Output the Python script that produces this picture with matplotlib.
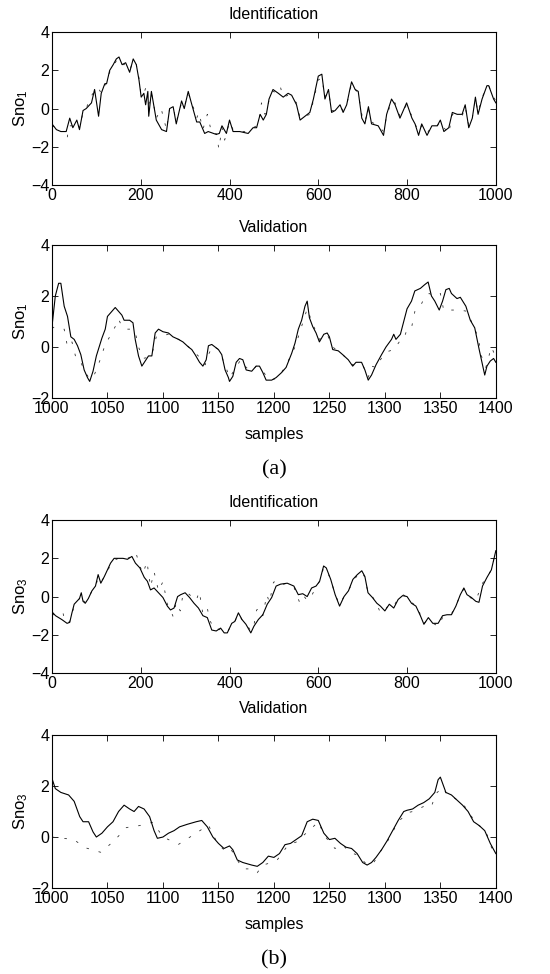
import matplotlib
matplotlib.use('Agg')
from matplotlib import pyplot as plt

plt.rcParams['font.family'] = ['Liberation Sans', 'DejaVu Sans']
plt.rcParams['mathtext.fontset'] = 'custom'
plt.rcParams['mathtext.rm'] = 'Liberation Sans'
plt.rcParams['mathtext.it'] = 'Liberation Sans'

# (a) identification, Sno_1 - measured (solid)
id1_x = [0, 10, 20, 32, 40, 47, 56, 62, 70, 77, 89, 96, 105, 111, 119, 123, 130, 138, 145,
         151, 158, 166, 175, 183, 190, 196, 201, 207, 211, 216, 218, 224, 235, 247, 258, 265,
         273, 280, 292, 298, 307, 314, 326, 333, 344, 352, 370, 377, 383, 393, 400, 408, 423,
         442, 453, 461, 469, 476, 483, 489, 498, 510, 521, 532, 540, 551, 559, 570, 581, 589,
         600, 608, 615, 623, 630, 638, 649, 656, 664, 671, 675, 683, 690, 698, 705, 713, 720,
         735, 747, 754, 765, 773, 784, 799, 811, 818, 826, 833, 845, 856, 868, 875, 883, 894,
         902, 913, 924, 931, 939, 947, 954, 960, 969, 980, 984, 995, 1000]
id1_y = [-0.8, -1.1, -1.2, -1.2, -0.5, -1.0, -0.6, -1.1, -0.1, 0.0, 0.3, 1.0, -0.4, 0.8, 1.3,
         1.3, 2.0, 2.3, 2.6, 2.7, 2.3, 2.4, 1.9, 2.6, 2.3, 1.5, 0.6, 0.8, 0.2, 0.9, -0.4, 0.9,
         -0.6, -1.1, -1.2, 0.0, 0.1, -0.8, 0.4, 0.0, 0.9, 0.3, -0.7, -0.7, -1.3, -1.2, -1.35,
         -1.3, -0.9, -1.3, -0.6, -1.2, -1.2, -1.3, -1.0, -1.0, -0.3, -0.6, -0.3, 0.5, 1.0, 0.8,
         0.6, 0.8, 0.7, 0.2, -0.6, -0.4, -0.2, 0.5, 1.7, 1.8, 0.5, 1.0, -0.2, -0.1, 0.2, -0.2,
         0.2, 1.0, 1.4, 1.0, 0.9, -0.5, -0.8, 0.1, -0.8, -0.9, -1.4, -0.3, 0.5, 0.2, -0.5, 0.3,
         -0.5, -0.8, -1.4, -0.8, -1.4, -0.9, -0.9, -0.6, -1.2, -1.0, -0.2, -0.3, -0.3, 0.2,
         -1.0, -0.5, 0.6, -0.3, 0.5, 1.2, 1.2, 0.5, 0.3]
# model output (dashed)
id1m_x = [0, 10, 20, 30, 34, 38, 47, 56, 62, 70, 77, 85, 91, 96, 104, 111, 119, 130, 138, 145,
          151, 158, 166, 175, 183, 190, 196, 201, 207, 213, 218, 224, 235, 246, 258, 265, 273,
          280, 292, 298, 307, 314, 326, 331, 340, 350, 360, 370, 376, 383, 389, 400, 408, 423,
          442, 453, 461, 469, 472, 480, 489, 498, 510, 515, 521, 532, 540, 551, 559, 570, 581,
          589, 600, 608, 615, 623, 630, 638, 649, 656, 664, 671, 675, 683, 690, 698, 705, 713,
          720, 735, 747, 754, 765, 773, 784, 799, 811, 818, 826, 833, 845, 856, 868, 875, 883,
          894, 902, 913, 924, 931, 939, 947, 954, 960, 969, 980, 984, 995, 1000]
id1m_y = [-0.9, -1.0, -1.2, -1.2, -1.6, -0.9, -0.9, -0.7, -1.0, -0.2, 0.0, 0.5, 0.75, 0.9,
          1.1, 0.8, 1.2, 1.9, 2.2, 2.5, 2.6, 2.3, 2.3, 2.0, 2.5, 2.3, 1.6, 0.7, 0.8, 1.2, 0.2,
          0.8, -0.5, 0.0, -1.1, 0.0, 0.1, -0.7, 0.3, 0.1, 0.8, 0.4, -0.5, -0.2, -1.1, -0.3,
          -1.3, -1.3, -2.1, -1.0, -1.65, -0.7, -1.1, -1.2, -1.2, -1.0, -0.9, -0.3, 0.3, -0.3,
          0.4, 0.9, 0.8, 1.1, 0.6, 0.7, 0.6, 0.3, -0.5, -0.4, -0.3, 0.4, 1.5, 1.6, 0.6, 0.9,
          -0.1, -0.1, 0.1, -0.1, 0.2, 0.9, 1.3, 1.0, 0.8, -0.3, -0.7, 0.0, -0.7, -0.9, -1.2,
          -0.4, 0.4, 0.3, -0.4, 0.2, -0.4, -0.8, -1.2, -0.9, -1.3, -0.9, -0.9, -0.7, -1.0, -1.3,
          -0.3, -0.3, -0.4, 0.1, -0.9, -0.5, 0.5, -0.2, 0.6, 1.1, 1.2, 0.6, 0.4]

# (a) validation, Sno_1
va1_x = [1000, 1003, 1006, 1008, 1011, 1014, 1017, 1020, 1023, 1026, 1029, 1032, 1034, 1037,
         1040, 1045, 1048, 1050, 1054, 1057, 1060, 1063, 1065, 1070, 1073, 1075, 1078, 1081,
         1084, 1087, 1090, 1093, 1096, 1100, 1105, 1109, 1114, 1118, 1123, 1126, 1129, 1133,
         1136, 1139, 1141, 1144, 1147, 1150, 1153, 1156, 1159, 1160, 1163, 1166, 1169, 1172,
         1175, 1180, 1184, 1187, 1190, 1193, 1198, 1202, 1207, 1211, 1216, 1219, 1222, 1225,
         1228, 1230, 1232, 1235, 1238, 1241, 1245, 1248, 1250, 1253, 1258, 1262, 1267, 1271,
         1274, 1279, 1282, 1285, 1288, 1292, 1297, 1301, 1306, 1308, 1310, 1314, 1317, 1320,
         1324, 1327, 1332, 1336, 1339, 1342, 1345, 1349, 1352, 1355, 1358, 1360, 1365, 1368,
         1373, 1377, 1381, 1385, 1388, 1390, 1392, 1395, 1398, 1400]
va1_y = [0.8, 2.0, 2.5, 2.5, 1.6, 1.2, 0.4, 0.3, 0.05, -0.3, -0.9, -1.2, -1.35, -0.95, -0.35,
         0.35, 0.7, 1.2, 1.4, 1.55, 1.4, 1.25, 1.05, 1.05, 0.95, 0.3, -0.35, -0.75, -0.55,
         -0.35, -0.35, 0.55, 0.7, 0.6, 0.55, 0.4, 0.3, 0.2, 0.0, -0.1, -0.3, -0.6, -0.75, -0.5,
         0.05, 0.1, 0.0, -0.1, -0.3, -0.9, -1.2, -1.35, -1.15, -0.6, -0.45, -0.5, -0.9, -0.95,
         -0.75, -0.75, -1.0, -1.3, -1.3, -1.2, -1.0, -0.8, -0.25, 0.15, 0.7, 1.05, 1.6, 1.8,
         1.15, 0.8, 0.55, 0.2, 0.5, 0.55, 0.4, -0.1, -0.15, -0.3, -0.5, -0.75, -0.6, -0.6,
         -0.9, -1.3, -1.1, -0.7, -0.3, 0.0, 0.3, 0.5, 0.3, 0.5, 1.0, 1.5, 1.8, 2.2, 2.3, 2.45,
         2.55, 2.0, 1.8, 1.45, 1.8, 2.25, 2.3, 2.1, 1.9, 1.95, 1.6, 1.05, 0.75, -0.1, -0.7,
         -1.1, -0.75, -0.55, -0.45, -0.6]
va1m_x = [1000, 1004, 1008, 1011, 1014, 1018, 1022, 1026, 1030, 1034, 1037, 1040, 1043, 1048,
          1052, 1057, 1060, 1063, 1067, 1072, 1075, 1078, 1082, 1087, 1090, 1094, 1100, 1105,
          1110, 1118, 1126, 1133, 1138, 1141, 1145, 1150, 1156, 1160, 1166, 1170, 1175, 1180,
          1184, 1190, 1196, 1201, 1205, 1210, 1214, 1219, 1222, 1226, 1230, 1235, 1241, 1248,
          1253, 1262, 1271, 1280, 1285, 1288, 1292, 1296, 1301, 1308, 1313, 1317, 1320, 1324,
          1327, 1332, 1336, 1340, 1344, 1350, 1353, 1358, 1363, 1368, 1374, 1378, 1384, 1387,
          1391, 1396, 1400]
va1m_y = [0.8, 0.7, 0.68, 0.7, 0.0, 0.2, -0.5, -0.6, -1.0, -1.25, -1.2, -0.9, -0.55, 0.1, 0.4,
          0.8, 1.1, 0.8, 0.7, 0.7, 0.6, 0.0, -0.45, -0.4, -0.3, 0.4, 0.45, 0.5, 0.4, 0.2, -0.1,
          -0.4, -0.7, -0.3, 0.05, -0.1, -0.7, -1.2, -0.8, -0.5, -0.8, -0.95, -0.75, -0.95, -1.3,
          -1.25, -1.1, -0.8, -0.45, 0.0, 0.4, 0.95, 1.5, 0.9, 0.3, 0.5, 0.0, -0.3, -0.7, -0.7,
          -1.2, -0.75, -0.8, -0.5, -0.2, -0.1, 0.2, 0.3, 0.7, 0.75, 1.39, 1.6, 1.97, 2.1, 2.0,
          2.1, 1.45, 1.45, 1.45, 1.45, 1.4, 1.0, 0.4, -0.35, -0.8, 0.0, -0.4]

# (b) identification, Sno_3
id3_x = [0, 8, 15, 22, 28, 34, 40, 45, 50, 56, 62, 66, 70, 75, 82, 90, 98, 104, 110, 118, 125,
         132, 140, 150, 160, 170, 180, 188, 198, 208, 215, 222, 230, 240, 250, 260, 267, 275,
         283, 290, 300, 310, 320, 330, 340, 350, 360, 370, 380, 388, 395, 405, 412, 420, 428,
         437, 448, 455, 465, 475, 485, 495, 505, 515, 530, 545, 555, 565, 575, 585, 595, 603,
         612, 618, 628, 638, 648, 658, 668, 678, 688, 698, 705, 712, 722, 732, 740, 750, 760,
         770, 780, 790, 800, 810, 820, 830, 838, 848, 858, 870, 880, 890, 900, 910, 920, 928,
         935, 945, 955, 962, 970, 980, 990, 995, 1000]
id3_y = [-0.8, -1.0, -1.1, -1.2, -1.3, -1.4, -1.35, -0.85, -0.4, -0.25, -0.1, 0.2, -0.25,
         -0.35, -0.1, 0.3, 0.55, 1.15, 0.7, 1.05, 1.4, 1.75, 2.0, 2.0, 2.0, 1.95, 2.1, 1.75,
         1.5, 1.0, 0.8, 0.35, 0.45, 0.2, -0.05, -0.5, -0.7, -0.6, 0.0, 0.1, 0.2, -0.05, -0.35,
         -0.6, -1.0, -1.1, -1.75, -1.8, -1.65, -1.9, -1.9, -1.4, -1.3, -0.85, -1.2, -1.45, -1.9,
         -1.55, -1.2, -0.95, -0.4, -0.05, 0.55, 0.65, 0.7, 0.55, 0.1, 0.15, 0.0, 0.45, 0.55,
         0.8, 1.6, 1.5, 0.9, 0.1, -0.5, 0.0, 0.3, 0.9, 1.15, 1.35, 1.05, 0.2, -0.05, -0.35,
         -0.5, -0.75, -0.4, -0.6, -0.15, 0.05, 0.0, -0.35, -0.5, -1.0, -1.45, -1.1, -1.4, -1.4,
         -1.0, -0.95, -0.95, -0.5, 0.1, 0.45, 0.1, -0.05, -0.25, -0.3, 0.55, 1.0, 1.4, 1.9, 2.4]
id3m_x = [0, 8, 15, 25, 28, 34, 40, 45, 50, 56, 62, 66, 70, 75, 82, 90, 98, 104, 110, 118, 125,
          132, 140, 150, 160, 170, 180, 189, 198, 205, 214, 222, 230, 240, 250, 260, 267, 273,
          280, 289, 295, 305, 315, 325, 332, 340, 350, 355, 365, 375, 385, 395, 405, 412, 420,
          428, 437, 448, 455, 461, 470, 475, 484, 490, 499, 505, 515, 530, 545, 557, 565, 575,
          584, 595, 603, 612, 618, 628, 638, 648, 658, 668, 678, 688, 698, 705, 712, 722, 732,
          740, 750, 760, 770, 780, 790, 800, 810, 826, 830, 838, 848, 858, 871, 880, 890, 900,
          910, 920, 928, 935, 945, 955, 964, 970, 980, 990, 995, 1000]
id3m_y = [-0.9, -1.0, -1.0, -0.87, -1.2, -1.4, -1.3, -0.9, -0.5, -0.3, -0.1, 0.1, -0.2, -0.3,
          -0.1, 0.3, 0.5, 1.0, 0.8, 1.0, 1.3, 1.7, 1.9, 2.0, 2.0, 2.0, 2.1, 2.3, 1.6, 1.2, 1.83,
          0.5, 1.3, 0.3, 0.78, -0.4, -0.7, -1.05, -0.3, -0.75, 0.1, 0.2, 0.0, -0.2, 0.26, -0.9,
          -0.6, -1.2, -1.7, -1.7, -1.8, -1.9, -1.4, -1.3, -0.9, -1.2, -1.4, -1.8, -1.5, -0.7,
          -0.6, -1.0, 0.1, -0.3, 0.75, 0.8, 0.6, 0.7, 0.5, -0.25, 0.1, -0.2, 0.0, 0.5, 0.8, 1.5,
          1.4, 0.9, 0.1, -0.4, 0.0, 0.3, 0.8, 1.1, 1.3, 1.0, 0.2, 0.0, -0.4, -0.85, -0.7, -0.4,
          -0.5, -0.1, 0.1, 0.0, -0.3, -0.6, -1.0, -1.4, -1.2, -1.4, -1.55, -1.1, -1.0, -0.9,
          -0.5, 0.1, 0.4, 0.1, -0.1, -0.2, 0.35, 0.7, 1.0, 1.4, 1.9, 2.4]

# (b) validation, Sno_3
va3_x = [1000, 1003, 1008, 1015, 1020, 1025, 1028, 1033, 1037, 1040, 1045, 1050, 1055, 1060,
         1065, 1070, 1074, 1078, 1083, 1088, 1092, 1095, 1100, 1105, 1110, 1115, 1122, 1130,
         1135, 1140, 1145, 1150, 1155, 1160, 1163, 1167, 1172, 1180, 1185, 1190, 1195, 1200,
         1205, 1210, 1215, 1220, 1225, 1230, 1235, 1240, 1245, 1250, 1255, 1260, 1265, 1270,
         1275, 1280, 1284, 1288, 1292, 1297, 1302, 1307, 1312, 1317, 1320, 1325, 1330, 1335,
         1340, 1345, 1348, 1350, 1355, 1360, 1365, 1370, 1375, 1380, 1385, 1390, 1395, 1400]
va3_y = [2.3, 1.9, 1.75, 1.65, 1.4, 0.8, 0.6, 0.6, 0.2, 0.0, 0.15, 0.4, 0.6, 1.0, 1.25, 1.1,
         1.0, 1.2, 1.1, 0.8, 0.25, -0.05, 0.0, 0.15, 0.25, 0.4, 0.5, 0.6, 0.65, 0.4, 0.0,
         -0.25, -0.45, -0.35, -0.5, -0.9, -1.0, -1.1, -1.15, -1.0, -0.75, -0.8, -0.65, -0.3,
         -0.25, -0.1, 0.05, 0.6, 0.7, 0.65, 0.15, -0.1, -0.05, -0.25, -0.4, -0.45, -0.65, -1.0,
         -1.1, -1.0, -0.8, -0.5, -0.15, 0.25, 0.65, 1.0, 1.05, 1.1, 1.25, 1.35, 1.5, 1.75, 2.25,
         2.35, 1.75, 1.65, 1.45, 1.25, 1.0, 0.6, 0.45, 0.25, -0.25, -0.65]
va3m_x = [1000, 1008, 1019, 1030, 1044, 1056, 1067, 1079, 1091, 1100, 1105, 1114, 1128, 1141,
          1145, 1150, 1155, 1160, 1163, 1167, 1172, 1180, 1185, 1190, 1198, 1203, 1208, 1213,
          1220, 1225, 1233, 1240, 1245, 1250, 1255, 1262, 1268, 1275, 1282, 1286, 1290, 1297,
          1302, 1307, 1312, 1317, 1320, 1325, 1330, 1335, 1342, 1346, 1352, 1357, 1362, 1367,
          1372, 1377, 1382, 1387, 1392, 1396, 1400]
va3m_y = [0.0, -0.05, -0.08, -0.42, -0.6, -0.15, 0.37, 0.45, 0.58, 0.0, -0.1, -0.29, 0.1,
          0.47, 0.1, -0.3, -0.5, -0.4, -0.6, -0.9, -1.25, -1.25, -1.4, -1.1, -1.0, -0.9, -0.6,
          -0.3, -0.2, 0.0, 0.3, 0.6, 0.1, -0.2, -0.45, -0.3, -0.6, -0.7, -1.0, -1.1, -1.0,
          -0.5, -0.2, 0.2, 0.6, 0.8, 0.95, 1.0, 1.1, 1.2, 1.2, 1.7, 1.95, 1.6, 1.55, 1.4, 1.2,
          0.9, 0.5, 0.4, 0.1, -0.4, -0.7]

fig = plt.figure(figsize=(5.5, 9.74), dpi=100)

panels = [
    # bottom, x, y, xm, ym, xlim, xticks, ylim, yticks, label
    (0.810, id1_x, id1_y, id1m_x, id1m_y, (0, 1000), range(0, 1001, 200), (-4, 4), [-4, -2, 0, 2, 4], 'Sno$_1$'),
    (0.5914, va1_x, va1_y, va1m_x, va1m_y, (1000, 1400), range(1000, 1401, 50), (-2, 4), [-2, 0, 2, 4], 'Sno$_1$'),
    (0.309, id3_x, id3_y, id3m_x, id3m_y, (0, 1000), range(0, 1001, 200), (-4, 4), [-4, -2, 0, 2, 4], 'Sno$_3$'),
    (0.0883, va3_x, va3_y, va3m_x, va3m_y, (1000, 1400), range(1000, 1401, 50), (-2, 4), [-2, 0, 2, 4], 'Sno$_3$'),
]

for bottom, x, y, xm, ym, xlim, xt, ylim, yt, lab in panels:
    ax = fig.add_axes([0.0945, bottom, 0.807, 0.157])
    ax.plot(xm, ym, color='#333333', linestyle=(0, (3, 12)), linewidth=0.6)
    ax.plot(x, y, color='black', linewidth=0.8)
    ax.set_xlim(xlim)
    ax.set_ylim(ylim)
    ax.set_xticks(list(xt))
    ax.set_yticks(yt)
    ax.tick_params(direction='in', top=True, right=True, length=4, width=0.6,
                   labelsize=11.5, pad=2)
    for s in ax.spines.values():
        s.set_linewidth(0.8)
    ax.set_ylabel(lab, fontsize=12)
    ax.yaxis.set_label_coords(-0.05, 0.5)

cx = 0.498
fig.text(cx, 0.9846, 'Identification', ha='center', va='center', fontsize=11.5)
fig.text(cx, 0.766, 'Validation', ha='center', va='center', fontsize=11.5)
fig.text(cx, 0.5534, 'samples', ha='center', va='center', fontsize=11.5)
fig.text(cx, 0.5175, '(a)', ha='center', va='center', fontsize=16, family='Liberation Serif')
fig.text(cx, 0.4836, 'Identification', ha='center', va='center', fontsize=11.5)
fig.text(cx, 0.273, 'Validation', ha='center', va='center', fontsize=11.5)
fig.text(cx, 0.0513, 'samples', ha='center', va='center', fontsize=11.5)
fig.text(cx, 0.0144, '(b)', ha='center', va='center', fontsize=16, family='Liberation Serif')

fig.savefig('out.png', dpi=100)
